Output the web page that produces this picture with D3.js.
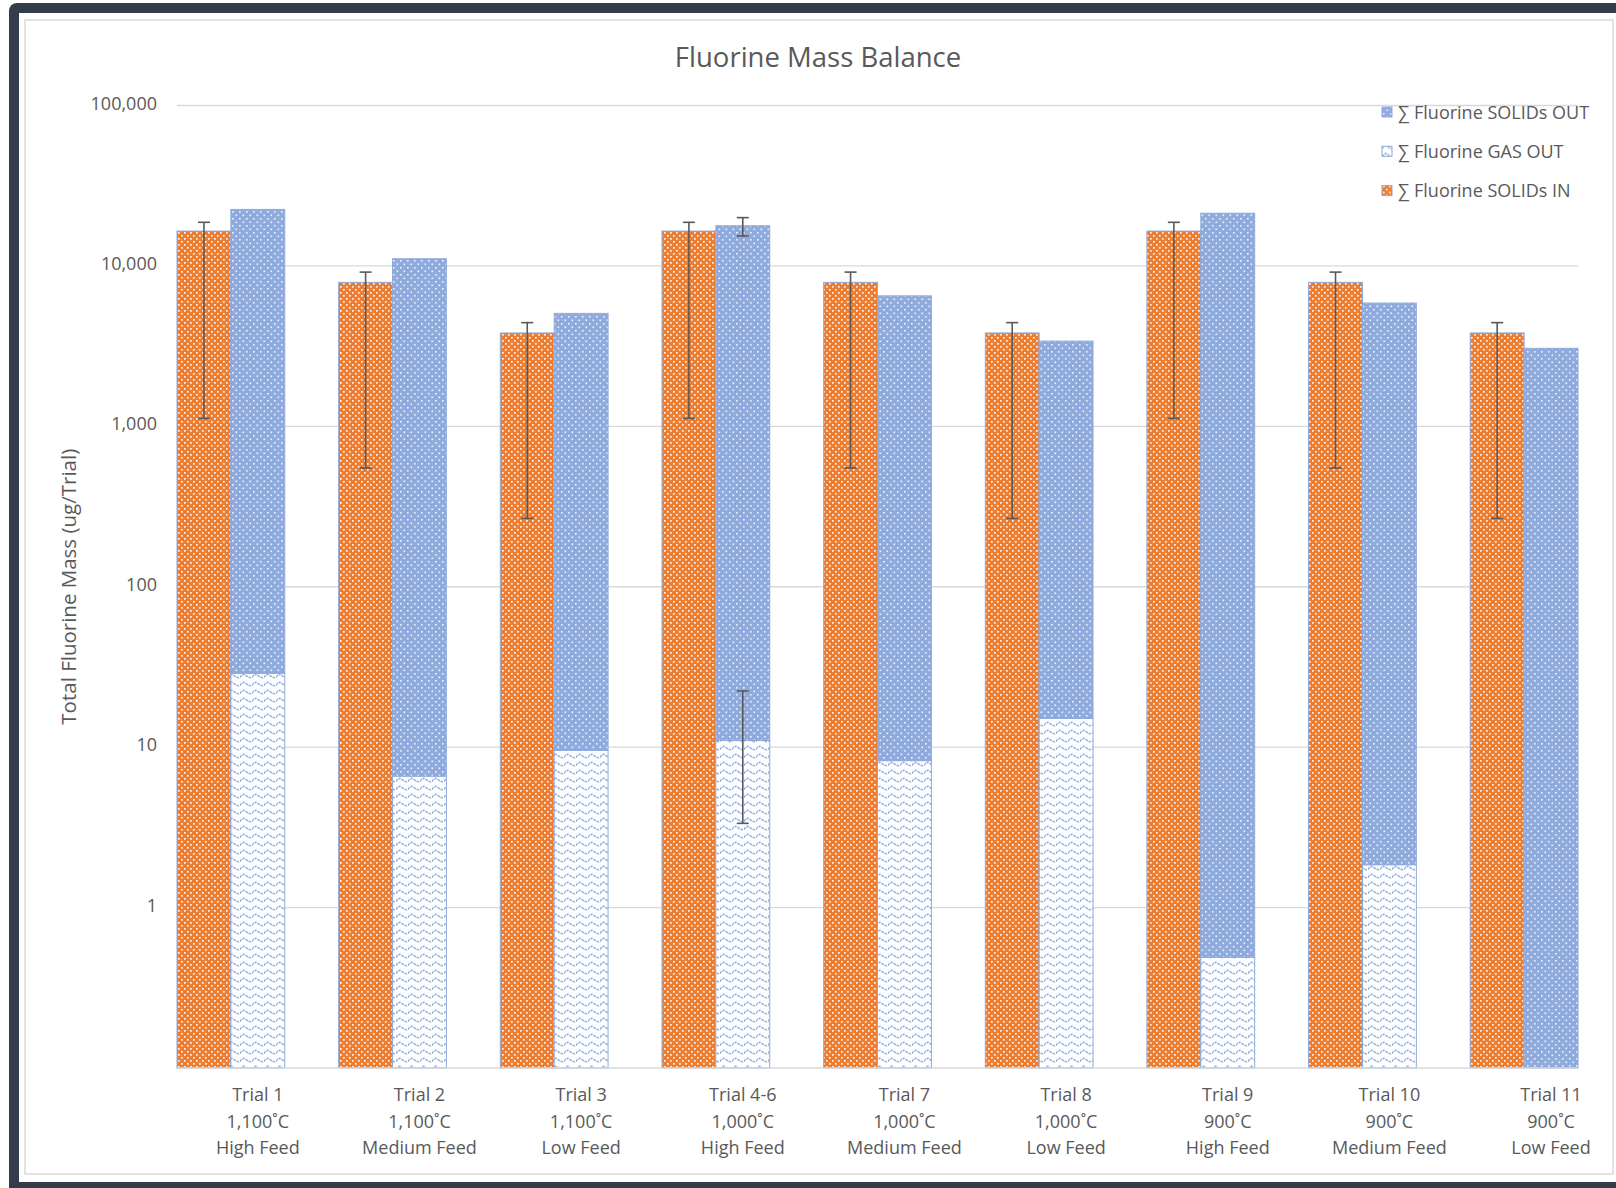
<!DOCTYPE html>
<html>
<head>
<meta charset="utf-8">
<script src="https://cdn.jsdelivr.net/npm/d3@7"></script>
<style>
  body { margin: 0; background: #fff; }
  text { font-family: "Open Sans", "Noto Sans", sans-serif; fill: #595959; }
</style>
</head>
<body>
<div id="chart"></div>
<script>
// chart values
var trials = ["Trial 1", "Trial 2", "Trial 3", "Trial 4-6", "Trial 7", "Trial 8", "Trial 9", "Trial 10", "Trial 11"];
var temps = ["1,100˚C", "1,100˚C", "1,100˚C", "1,000˚C", "1,000˚C", "1,000˚C", "900˚C", "900˚C", "900˚C"];
var feeds = ["High Feed", "Medium Feed", "Low Feed", "High Feed", "Medium Feed", "Low Feed", "High Feed", "Medium Feed", "Low Feed"];

var solidsIn = [16500, 7900, 3820, 16500, 7900, 3820, 16500, 7900, 3820];
var solidsInHigh = [18700, 9150, 4430, 18700, 9150, 4430, 18700, 9150, 4430];
var solidsInLow = [1120, 550, 267, 1120, 550, 267, 1120, 550, 267];

var gasOut = [28.8, 6.6, 9.55, 11.0, 8.24, 15.1, 0.49, 1.85, 0];
var gasOutHigh = [null, null, null, 22.4, null, null, null, null, null];
var gasOutLow = [null, null, null, 3.35, null, null, null, null, null];

var solidsOut = [22470, 11080, 5050, 17790, 6500, 3385, 21300, 5868, 3065];
var totalOutHigh = [null, null, null, 20000, null, null, null, null, null];
var totalOutLow = [null, null, null, 15360, null, null, null, null, null];

var yTicks = [1, 10, 100, 1000, 10000, 100000];
var legendNames = ["∑ Fluorine SOLIDs OUT", "∑ Fluorine GAS OUT", "∑ Fluorine SOLIDs IN"];

var svgWidth = 1616;
var svgHeight = 1188;

var plot = { left: 177, right: 1578, top: 105.5, bottom: 1068 };

var svg = d3.select("#chart")
  .append("svg")
  .attr("width", svgWidth)
  .attr("height", svgHeight);

// patterns
var defs = svg.append("defs");

var pOrange = defs.append("pattern")
  .attr("id", "dotsOrange")
  .attr("patternUnits", "userSpaceOnUse")
  .attr("width", 6).attr("height", 6);
pOrange.append("rect").attr("width", 6).attr("height", 6).attr("fill", "#ed7d31");
pOrange.append("rect").attr("x", 1).attr("y", 1).attr("width", 1.7).attr("height", 1.7).attr("fill", "#fff").attr("opacity", 0.9);
pOrange.append("rect").attr("x", 4).attr("y", 4).attr("width", 1.7).attr("height", 1.7).attr("fill", "#fff").attr("opacity", 0.9);

var pBlue = defs.append("pattern")
  .attr("id", "dotsBlue")
  .attr("patternUnits", "userSpaceOnUse")
  .attr("width", 7).attr("height", 7);
pBlue.append("rect").attr("width", 7).attr("height", 7).attr("fill", "#8faadc");
pBlue.append("rect").attr("x", 1).attr("y", 1).attr("width", 1.6).attr("height", 1.6).attr("fill", "#fff").attr("opacity", 0.85);
pBlue.append("rect").attr("x", 4.5).attr("y", 4.5).attr("width", 1.6).attr("height", 1.6).attr("fill", "#fff").attr("opacity", 0.85);

var pWave = defs.append("pattern")
  .attr("id", "waves")
  .attr("patternUnits", "userSpaceOnUse")
  .attr("width", 12).attr("height", 8);
pWave.append("rect").attr("width", 12).attr("height", 8).attr("fill", "#fff");
pWave.append("path")
  .attr("d", "M0,5.5 Q3,0.5 6,3.5 T12,5.5")
  .attr("fill", "none")
  .attr("stroke", "#8faadc")
  .attr("stroke-width", 1.6)
  .attr("stroke-dasharray", "2.5,1");

// frame
svg.append("rect")
  .attr("x", 9).attr("y", 3)
  .attr("width", 1660).attr("height", 1240)
  .attr("rx", 8)
  .attr("fill", "#333c4a");
svg.append("rect")
  .attr("x", 19).attr("y", 13)
  .attr("width", 1640).attr("height", 1169)
  .attr("fill", "#fff");
svg.append("rect")
  .attr("x", 25).attr("y", 20)
  .attr("width", 1588).attr("height", 1154)
  .attr("fill", "none")
  .attr("stroke", "#d9d9d9")
  .attr("stroke-width", 1.5);

// scales
var yScale = d3.scaleLog()
  .domain([0.1, 100000])
  .range([plot.bottom, plot.top])
  .clamp(true);

// the bar pairs fill 2/3 of each step, the last pair ends at the plot edge
var step = (plot.right - plot.left) / (trials.length - 1 / 3);
var xScale = d3.scaleBand()
  .domain(trials)
  .range([plot.left, plot.left + step * trials.length])
  .paddingInner(0)
  .paddingOuter(0);

var xSub = d3.scaleBand()
  .domain(["in", "out", "gap"])
  .range([0, xScale.bandwidth()]);

// gridlines
svg.append("g")
  .selectAll("line")
  .data(yTicks)
  .enter()
  .append("line")
  .attr("x1", plot.left)
  .attr("x2", plot.right)
  .attr("y1", d => yScale(d))
  .attr("y2", d => yScale(d))
  .attr("stroke", "#d9d9d9")
  .attr("stroke-width", 1.3);

// y tick labels
var yAxis = d3.axisLeft(yScale)
  .tickValues(yTicks)
  .tickFormat(d3.format(","))
  .tickSize(0)
  .tickPadding(20);

var yAxisG = svg.append("g")
  .attr("transform", `translate(${plot.left}, 0)`)
  .call(yAxis);
yAxisG.select(".domain").remove();
yAxisG.selectAll("text")
  .attr("font-size", 18)
  .attr("font-family", "'Open Sans', sans-serif")
  .attr("fill", "#595959")
  .attr("dy", "0.2em");

var bars = svg.append("g");

// solids in
bars.selectAll(".barIn")
  .data(trials)
  .enter()
  .append("rect")
  .attr("x", d => xScale(d) + xSub("in"))
  .attr("y", (d, i) => yScale(solidsIn[i]))
  .attr("width", xSub.bandwidth())
  .attr("height", (d, i) => plot.bottom - yScale(solidsIn[i]))
  .attr("fill", "url(#dotsOrange)")
  .attr("stroke", "#8faadc")
  .attr("stroke-width", 1);

// gas out (bottom of stack)
bars.selectAll(".barGas")
  .data(trials)
  .enter()
  .append("rect")
  .attr("x", d => xScale(d) + xSub("out"))
  .attr("y", (d, i) => yScale(Math.max(gasOut[i], 0.1)))
  .attr("width", xSub.bandwidth())
  .attr("height", (d, i) => plot.bottom - yScale(Math.max(gasOut[i], 0.1)))
  .attr("fill", "url(#waves)")
  .attr("stroke", "#8faadc")
  .attr("stroke-width", 1);

// solids out (top of stack)
bars.selectAll(".barOut")
  .data(trials)
  .enter()
  .append("rect")
  .attr("x", d => xScale(d) + xSub("out"))
  .attr("y", (d, i) => yScale(gasOut[i] + solidsOut[i]))
  .attr("width", xSub.bandwidth())
  .attr("height", (d, i) => yScale(Math.max(gasOut[i], 0.1)) - yScale(gasOut[i] + solidsOut[i]))
  .attr("fill", "url(#dotsBlue)")
  .attr("stroke", "#8faadc")
  .attr("stroke-width", 1);

// x axis line
svg.append("line")
  .attr("x1", plot.left)
  .attr("x2", plot.right)
  .attr("y1", plot.bottom)
  .attr("y2", plot.bottom)
  .attr("stroke", "#d9d9d9")
  .attr("stroke-width", 1.5);

// error bars
function errorBar(g, cx, hi, lo) {
  g.append("line")
    .attr("x1", cx).attr("x2", cx)
    .attr("y1", yScale(hi)).attr("y2", yScale(lo));
  [hi, lo].forEach(function(v) {
    g.append("line")
      .attr("x1", cx - 6).attr("x2", cx + 6)
      .attr("y1", yScale(v)).attr("y2", yScale(v));
  });
}

var errG = svg.append("g")
  .attr("stroke", "#595959")
  .attr("stroke-width", 1.6);

trials.forEach(function(t, i) {
  var cxIn = xScale(t) + xSub("in") + xSub.bandwidth() / 2;
  var cxOut = xScale(t) + xSub("out") + xSub.bandwidth() / 2;
  errorBar(errG, cxIn, solidsInHigh[i], solidsInLow[i]);
  if (gasOutHigh[i] != null) errorBar(errG, cxOut, gasOutHigh[i], gasOutLow[i]);
  if (totalOutHigh[i] != null) errorBar(errG, cxOut, totalOutHigh[i], totalOutLow[i]);
});

// x labels
var xLabels = svg.append("g")
  .selectAll("text")
  .data(trials)
  .enter()
  .append("text")
  .attr("text-anchor", "middle")
  .attr("font-size", 18)
  .attr("y", 1101);

xLabels.append("tspan")
  .attr("x", d => xScale(d) + xScale.bandwidth() / 2)
  .text(d => d);
xLabels.append("tspan")
  .attr("x", d => xScale(d) + xScale.bandwidth() / 2)
  .attr("dy", 26.5)
  .text((d, i) => temps[i]);
xLabels.append("tspan")
  .attr("x", d => xScale(d) + xScale.bandwidth() / 2)
  .attr("dy", 26.5)
  .text((d, i) => feeds[i]);

// title
svg.append("text")
  .attr("x", 818)
  .attr("y", 67)
  .attr("text-anchor", "middle")
  .attr("font-size", 27.5)
  .text("Fluorine Mass Balance");

// y axis title
svg.append("text")
  .attr("transform", `translate(76, ${(plot.top + plot.bottom) / 2}) rotate(-90)`)
  .attr("text-anchor", "middle")
  .attr("font-size", 20.5)
  .text("Total Fluorine Mass (ug/Trial)");

// legend
var legendFills = ["url(#dotsBlue)", "url(#waves)", "url(#dotsOrange)"];
var legend = svg.append("g")
  .selectAll("g")
  .data(legendNames)
  .enter()
  .append("g")
  .attr("transform", (d, i) => `translate(1382, ${112 + i * 39.3})`);

legend.append("rect")
  .attr("x", 0).attr("y", -5)
  .attr("width", 10).attr("height", 10)
  .attr("fill", (d, i) => legendFills[i])
  .attr("stroke", "#8faadc")
  .attr("stroke-width", 1);

legend.append("text")
  .attr("x", 16)
  .attr("y", 6.5)
  .attr("font-size", 18)
  .text(d => d);
</script>
</body>
</html>
